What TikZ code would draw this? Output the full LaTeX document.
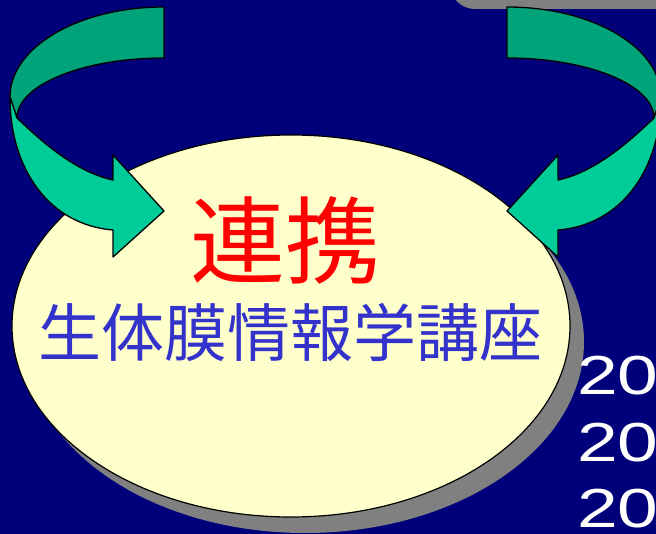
\documentclass[tikz,border=0pt]{standalone}
\usepackage{fontspec}
\setmainfont{Liberation Sans}
\newfontfamily\jfont{Noto Sans CJK JP}
\usetikzlibrary{shapes.geometric}
\definecolor{bgnavy}{RGB}{0,0,122}
\definecolor{shadowgray}{RGB}{128,128,128}
\definecolor{ovalfill}{RGB}{255,255,204}
\definecolor{ribbondark}{RGB}{0,163,122}
\definecolor{ribbonlight}{RGB}{0,204,153}
\definecolor{titleblue}{RGB}{51,51,204}
\tikzset{
  ribbonback/.style={fill=ribbondark, draw=black, line width=1.3pt, line join=round},
  ribbonfront/.style={fill=ribbonlight, draw=black, line width=1.3pt, line join=round},
  yeartext/.style={text=white, font=\fontsize{55}{60}\selectfont, anchor=base west, inner sep=0pt, xscale=1.33},
}
\newcommand\ribbonarrow{%
  \path[ribbonback] (164,7) .. controls (79,7) and (10,47) .. (10,97)
     -- (17,118) .. controls (17,85) and (83,58) .. (164,58) -- cycle;
  \path[ribbonfront] (10,97) .. controls (10,170) and (50,225) .. (113,230)
     -- (113,257) -- (164,211) -- (113,155) -- (113,180)
     .. controls (75,172) and (40,140) .. (17,118) -- cycle;
}
\begin{document}
\begin{tikzpicture}[x=1pt,y=-1pt]
\useasboundingbox (0,0) rectangle (656,534);
\clip (0,0) rectangle (656,534);
\fill[bgnavy] (0,0) rectangle (656,534);
\fill[shadowgray, rounded corners=25pt] (450,-40) rectangle (700,9);
\node[ellipse, fill=shadowgray, minimum width=558pt, minimum height=382pt, inner sep=0pt] (ovalshadow) at (305,342) {};
\node[ellipse, fill=ovalfill, draw=black, line width=1.2pt, minimum width=558pt, minimum height=382pt, inner sep=0pt] (oval) at (291,326) {};
\node[text=red, font=\jfont\fontsize{95}{100}\selectfont, inner sep=0pt] (renkei) at (285,240) {連携};
\node[text=titleblue, font=\jfont\fontsize{63}{70}\selectfont, inner sep=0pt] (koza) at (290,332) {生体膜情報学講座};
\ribbonarrow
\begin{scope}[xshift=671pt, xscale=-1]
\ribbonarrow
\end{scope}
\node[yeartext] (yearA) at (577,395) {20};
\node[yeartext] (yearB) at (577,461) {20};
\node[yeartext] (yearC) at (577,527) {20};
\end{tikzpicture}
\end{document}
